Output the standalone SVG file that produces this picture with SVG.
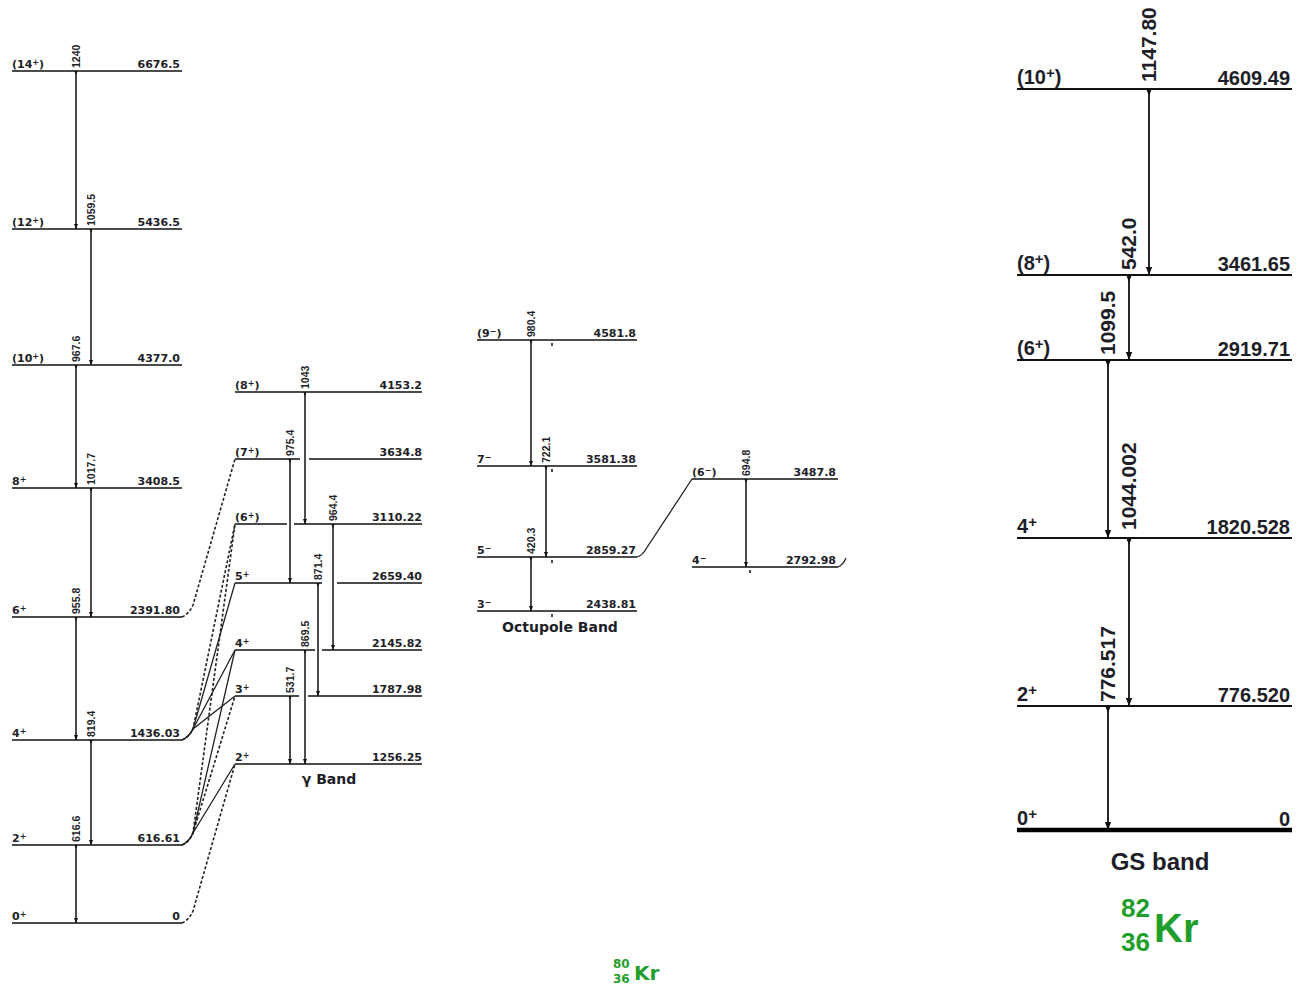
<svg xmlns="http://www.w3.org/2000/svg" width="1297" height="990" viewBox="0 0 1297 990">
<style>
.lv{stroke:#111;stroke-width:1.6;fill:none}
.lvR{stroke:#111;stroke-width:2;fill:none}
.tr{stroke:#111;stroke-width:1.5;fill:none;marker-end:url(#ah);marker-start:url(#st)}
.trR{stroke:#111;stroke-width:1.8;fill:none;marker-end:url(#ahR);marker-start:url(#stR)}
.lk{stroke:#222;stroke-width:1.3;fill:none}
.lkd{stroke:#222;stroke-width:1.6;fill:none;stroke-dasharray:3 2}
.s{font-family:"DejaVu Sans",sans-serif;font-weight:bold;font-size:11px;fill:#1e1e28}
.e{font-family:"DejaVu Sans",sans-serif;font-weight:bold;font-size:11px;fill:#1e1e28;text-anchor:end}
.g{font-family:"Liberation Sans",Arial,sans-serif;font-weight:bold;font-size:10.5px;fill:#1e1e28}
.S{font-family:"Liberation Sans",Arial,sans-serif;font-weight:bold;font-size:20px;fill:#1e1e28}
.E{font-family:"Liberation Sans",Arial,sans-serif;font-weight:bold;font-size:20px;fill:#1e1e28;text-anchor:end}
.G{font-family:"Liberation Sans",Arial,sans-serif;font-weight:bold;font-size:21px;fill:#1e1e28}
.sup{font-size:8px}
.supR{font-size:15px}
.bl{font-family:"DejaVu Sans",sans-serif;font-weight:bold;font-size:14px;fill:#1e1e28;text-anchor:middle}
.green{fill:#1f9e2c;font-weight:bold}
</style>
<defs>
<marker id="ah" viewBox="0 0 10 10" refX="10" refY="5" markerWidth="5" markerHeight="5" orient="auto" markerUnits="userSpaceOnUse"><path d="M0,1 L10,5 L0,9z" fill="#111"/></marker>
<marker id="st" viewBox="0 0 10 10" refX="0" refY="5" markerWidth="4" markerHeight="4" orient="auto" markerUnits="userSpaceOnUse"><path d="M0,1 L10,5 L0,9z" fill="#111"/></marker>
<marker id="ahR" viewBox="0 0 10 10" refX="10" refY="5" markerWidth="9" markerHeight="8" orient="auto" markerUnits="userSpaceOnUse"><path d="M0,1 L10,5 L0,9z" fill="#111"/></marker>
<marker id="stR" viewBox="0 0 10 10" refX="0" refY="5" markerWidth="7" markerHeight="8" orient="auto" markerUnits="userSpaceOnUse"><path d="M0,1 L10,5 L0,9z" fill="#111"/></marker>
</defs>

<!-- 80Kr ground band -->
<g id="kr80-14"><line class="lv" x1="12" y1="71" x2="182" y2="71"/><text class="s" x="12" y="68">(14<tspan class="sup" dy="-3">+</tspan><tspan dy="3">)</tspan></text><text class="e" x="180" y="68">6676.5</text></g>
<g id="kr80-12"><line class="lv" x1="12" y1="229" x2="182" y2="229"/><text class="s" x="12" y="226">(12<tspan class="sup" dy="-3">+</tspan><tspan dy="3">)</tspan></text><text class="e" x="180" y="226">5436.5</text></g>
<g id="kr80-10"><line class="lv" x1="12" y1="365" x2="182" y2="365"/><text class="s" x="12" y="362">(10<tspan class="sup" dy="-3">+</tspan><tspan dy="3">)</tspan></text><text class="e" x="180" y="362">4377.0</text></g>
<g id="kr80-8"><line class="lv" x1="12" y1="488" x2="182" y2="488"/><text class="s" x="12" y="485">8<tspan class="sup" dy="-3">+</tspan></text><text class="e" x="180" y="485">3408.5</text></g>
<g id="kr80-6"><line class="lv" x1="12" y1="617" x2="182" y2="617"/><text class="s" x="12" y="614">6<tspan class="sup" dy="-3">+</tspan></text><text class="e" x="180" y="614">2391.80</text></g>
<g id="kr80-4"><line class="lv" x1="12" y1="740" x2="182" y2="740"/><text class="s" x="12" y="737">4<tspan class="sup" dy="-3">+</tspan></text><text class="e" x="180" y="737">1436.03</text></g>
<g id="kr80-2"><line class="lv" x1="12" y1="845" x2="182" y2="845"/><text class="s" x="12" y="842">2<tspan class="sup" dy="-3">+</tspan></text><text class="e" x="180" y="842">616.61</text></g>
<g id="kr80-0"><line class="lv" x1="12" y1="923" x2="182" y2="923"/><text class="s" x="12" y="920">0<tspan class="sup" dy="-3">+</tspan></text><text class="e" x="180" y="920">0</text></g>

<!-- gamma band -->
<g id="gam-8"><line class="lv" x1="235" y1="392" x2="422" y2="392"/><text class="s" x="235" y="389">(8<tspan class="sup" dy="-3">+</tspan><tspan dy="3">)</tspan></text><text class="e" x="422" y="389">4153.2</text></g>
<g id="gam-7"><path class="lv" d="M235,459 H300 M309,459 H422"/><text class="s" x="235" y="456">(7<tspan class="sup" dy="-3">+</tspan><tspan dy="3">)</tspan></text><text class="e" x="422" y="456">3634.8</text></g>
<g id="gam-6"><path class="lv" d="M235,524 H287 M294,524 H422"/><text class="s" x="235" y="521">(6<tspan class="sup" dy="-3">+</tspan><tspan dy="3">)</tspan></text><text class="e" x="422" y="521">3110.22</text></g>
<g id="gam-5"><path class="lv" d="M235,583 H322 M337,583 H422"/><text class="s" x="235" y="580">5<tspan class="sup" dy="-3">+</tspan></text><text class="e" x="422" y="580">2659.40</text></g>
<g id="gam-4"><path class="lv" d="M235,650 H315 M322,650 H422"/><text class="s" x="235" y="647">4<tspan class="sup" dy="-3">+</tspan></text><text class="e" x="422" y="647">2145.82</text></g>
<g id="gam-3"><path class="lv" d="M235,696 H299 M308,696 H422"/><text class="s" x="235" y="693">3<tspan class="sup" dy="-3">+</tspan></text><text class="e" x="422" y="693">1787.98</text></g>
<g id="gam-2"><line class="lv" x1="235" y1="764" x2="422" y2="764"/><text class="s" x="235" y="761">2<tspan class="sup" dy="-3">+</tspan></text><text class="e" x="422" y="761">1256.25</text></g>
<g id="gam-label"><text class="bl" x="329" y="784">γ Band</text></g>

<!-- octupole band -->
<g id="oct-9"><line class="lv" x1="477" y1="340" x2="637" y2="340"/><text class="s" x="477" y="337">(9<tspan class="sup" dy="-3">−</tspan><tspan dy="3">)</tspan></text><text class="e" x="636" y="337">4581.8</text></g>
<g id="oct-7"><line class="lv" x1="477" y1="466" x2="637" y2="466"/><text class="s" x="477" y="463">7<tspan class="sup" dy="-3">−</tspan></text><text class="e" x="636" y="463">3581.38</text></g>
<g id="oct-5"><line class="lv" x1="477" y1="557" x2="637" y2="557"/><text class="s" x="477" y="554">5<tspan class="sup" dy="-3">−</tspan></text><text class="e" x="636" y="554">2859.27</text></g>
<g id="oct-3"><line class="lv" x1="477" y1="611" x2="637" y2="611"/><text class="s" x="477" y="608">3<tspan class="sup" dy="-3">−</tspan></text><text class="e" x="636" y="608">2438.81</text></g>
<g id="oct-label"><text class="bl" x="560" y="632">Octupole Band</text></g>

<!-- side band -->
<g id="side-6"><line class="lv" x1="692" y1="479" x2="838" y2="479"/><text class="s" x="692" y="476">(6<tspan class="sup" dy="-3">−</tspan><tspan dy="3">)</tspan></text><text class="e" x="836" y="476">3487.8</text></g>
<g id="side-4"><line class="lv" x1="692" y1="567" x2="838" y2="567"/><text class="s" x="692" y="564">4<tspan class="sup" dy="-3">−</tspan></text><text class="e" x="836" y="564">2792.98</text></g>

<g id="kr80-title"><text x="613" y="968" font-family="DejaVu Sans,sans-serif" font-size="12" class="green">80</text><text x="613" y="983" font-family="DejaVu Sans,sans-serif" font-size="12" class="green">36</text><text x="634" y="980" font-family="DejaVu Sans,sans-serif" font-size="20" class="green">Kr</text></g>

<!-- 82Kr GS band -->
<g id="kr82-10"><line class="lvR" x1="1017" y1="89" x2="1292" y2="89"/><text class="S" x="1017" y="84">(10<tspan class="supR" dy="-6">+</tspan><tspan dy="6">)</tspan></text><text class="E" x="1290" y="85">4609.49</text></g>
<g id="kr82-8"><line class="lvR" x1="1017" y1="275" x2="1292" y2="275"/><text class="S" x="1017" y="270">(8<tspan class="supR" dy="-6">+</tspan><tspan dy="6">)</tspan></text><text class="E" x="1290" y="271">3461.65</text></g>
<g id="kr82-6"><line class="lvR" x1="1017" y1="360" x2="1292" y2="360"/><text class="S" x="1017" y="355">(6<tspan class="supR" dy="-6">+</tspan><tspan dy="6">)</tspan></text><text class="E" x="1290" y="356">2919.71</text></g>
<g id="kr82-4"><line class="lvR" x1="1017" y1="538" x2="1292" y2="538"/><text class="S" x="1017" y="533">4<tspan class="supR" dy="-6">+</tspan></text><text class="E" x="1290" y="534">1820.528</text></g>
<g id="kr82-2"><line class="lvR" x1="1017" y1="706" x2="1292" y2="706"/><text class="S" x="1017" y="701">2<tspan class="supR" dy="-6">+</tspan></text><text class="E" x="1290" y="702">776.520</text></g>
<g id="kr82-0"><line x1="1017" y1="830" x2="1292" y2="830" stroke="#000" stroke-width="4.5"/><text class="S" x="1017" y="825">0<tspan class="supR" dy="-6">+</tspan></text><text class="E" x="1290" y="826">0</text></g>
<g id="kr82-label"><text x="1160" y="870" font-family="Liberation Sans,Arial,sans-serif" font-weight="bold" font-size="24" fill="#1e1e28" text-anchor="middle">GS band</text></g>
<g id="kr82-title"><text x="1121" y="917" font-family="Liberation Sans,Arial,sans-serif" font-size="26" class="green">82</text><text x="1121" y="951" font-family="Liberation Sans,Arial,sans-serif" font-size="26" class="green">36</text><text x="1154" y="942" font-family="Liberation Sans,Arial,sans-serif" font-size="40" class="green">Kr</text></g>

<!-- connectors -->
<g id="connectors">
<line class="tr" x1="76" y1="71" x2="76" y2="229"/>
<line class="tr" x1="91" y1="229" x2="91" y2="365"/>
<line class="tr" x1="76" y1="365" x2="76" y2="488"/>
<line class="tr" x1="91" y1="488" x2="91" y2="617"/>
<line class="tr" x1="76" y1="617" x2="76" y2="740"/>
<line class="tr" x1="91" y1="740" x2="91" y2="845"/>
<line class="tr" x1="76" y1="845" x2="76" y2="923"/>

<line class="tr" x1="305" y1="392" x2="305" y2="524"/>
<line class="tr" x1="290" y1="459" x2="290" y2="583"/>
<line class="tr" x1="333" y1="524" x2="333" y2="650"/>
<line class="tr" x1="318" y1="583" x2="318" y2="696"/>
<line class="tr" x1="305" y1="650" x2="305" y2="764"/>
<line class="tr" x1="290" y1="696" x2="290" y2="764"/>

<line class="tr" x1="531" y1="340" x2="531" y2="466"/>
<line class="tr" x1="546" y1="466" x2="546" y2="557"/>
<line class="tr" x1="531" y1="557" x2="531" y2="611"/>
<line class="tr" x1="746" y1="479" x2="746" y2="567"/>
<path d="M552,343 v3 M552,469 v3 M552,560 v3 M552,614 v3 M750,570 v3" stroke="#111" stroke-width="1.5"/>

<line class="trR" x1="1149" y1="89" x2="1149" y2="275"/>
<line class="trR" x1="1129" y1="275" x2="1129" y2="360"/>
<line class="trR" x1="1108" y1="360" x2="1108" y2="538"/>
<line class="trR" x1="1129" y1="538" x2="1129" y2="706"/>
<line class="trR" x1="1108" y1="706" x2="1108" y2="830"/>

<path class="lkd" d="M182,617 Q189,614 193,605 L235,459"/>
<path class="lkd" d="M182,740 Q189,737 193,729 L235,524"/>
<path class="lkd" d="M182,845 Q189,842 193,833 L235,524"/>
<path class="lk" d="M182,740 Q189,737 193,729 L235,583"/>
<path class="lk" d="M182,740 Q189,737 193,729 L235,650"/>
<path class="lk" d="M182,740 Q189,737 193,729 L235,696"/>
<path class="lk" d="M182,845 Q189,842 193,833 L235,650"/>
<path class="lkd" d="M182,845 Q189,842 193,833 L235,696"/>
<path class="lk" d="M182,845 Q189,842 193,833 L235,764"/>
<path class="lkd" d="M182,923 Q189,920 193,911 L235,764"/>
<path class="lk" d="M637,557 Q643,555 646,549 L692,479"/>
<path class="lk" d="M838,567 Q843,565 846,558"/>
</g>

<!-- transition labels -->
<g id="gamma-labels">
<text class="g" transform="translate(80,68) rotate(-90)">1240</text>
<text class="g" transform="translate(95,226) rotate(-90)">1059.5</text>
<text class="g" transform="translate(80,362) rotate(-90)">967.6</text>
<text class="g" transform="translate(95,485) rotate(-90)">1017.7</text>
<text class="g" transform="translate(80,614) rotate(-90)">955.8</text>
<text class="g" transform="translate(95,737) rotate(-90)">819.4</text>
<text class="g" transform="translate(80,842) rotate(-90)">616.6</text>
<text class="g" transform="translate(309,389) rotate(-90)">1043</text>
<text class="g" transform="translate(294,456) rotate(-90)">975.4</text>
<text class="g" transform="translate(337,521) rotate(-90)">964.4</text>
<text class="g" transform="translate(322,580) rotate(-90)">871.4</text>
<text class="g" transform="translate(309,647) rotate(-90)">869.5</text>
<text class="g" transform="translate(294,693) rotate(-90)">531.7</text>
<text class="g" transform="translate(535,337) rotate(-90)">980.4</text>
<text class="g" transform="translate(550,463) rotate(-90)">722.1</text>
<text class="g" transform="translate(535,554) rotate(-90)">420.3</text>
<text class="g" transform="translate(750,476) rotate(-90)">694.8</text>
<text class="G" transform="translate(1156,82) rotate(-90)">1147.80</text>
<text class="G" transform="translate(1136,270) rotate(-90)">542.0</text>
<text class="G" transform="translate(1115,355) rotate(-90)">1099.5</text>
<text class="G" transform="translate(1136,530) rotate(-90)">1044.002</text>
<text class="G" transform="translate(1115,702) rotate(-90)">776.517</text>
</g>
</svg>
